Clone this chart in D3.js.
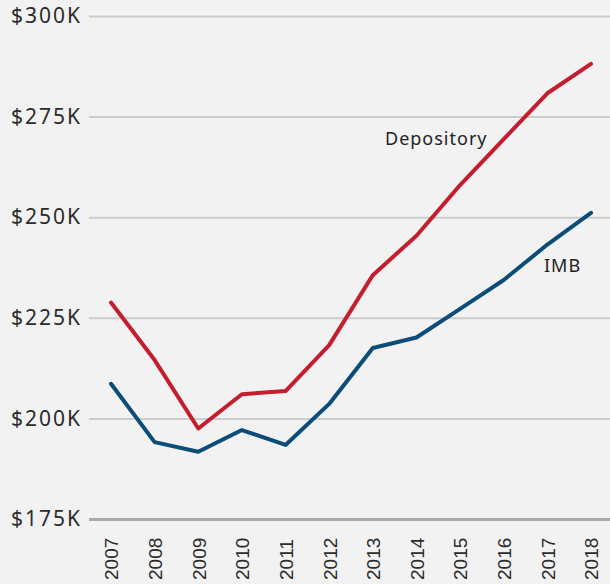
<!DOCTYPE html>
<html>
<head>
<meta charset="utf-8">
<script src="https://cdn.jsdelivr.net/npm/d3@7"></script>
<style>
  html, body { margin: 0; padding: 0; background: #f2f2f2; }
  svg { display: block; }
</style>
</head>
<body>
<svg id="chart"></svg>
<script>
const years = [2007, 2008, 2009, 2010, 2011, 2012, 2013, 2014, 2015, 2016, 2017, 2018];
const depository = [228.8, 214.5, 197.5, 206.0, 206.8, 218.2, 235.6, 245.4, 258.0, 269.4, 280.8, 288.1];
const imb = [208.6, 194.1, 191.7, 197.1, 193.4, 203.6, 217.5, 220.1, 227.2, 234.4, 243.2, 251.1];
const yTicks = [175, 200, 225, 250, 275, 300];

const W = 610, H = 584;

const svg = d3.select("#chart")
  .attr("width", W)
  .attr("height", H);

svg.append("rect")
  .attr("width", W)
  .attr("height", H)
  .attr("fill", "#f2f2f2");

const x = d3.scalePoint()
  .domain(years)
  .range([111, 591]);

const y = d3.scaleLinear()
  .domain([175, 300])
  .range([519, 16]);

// gridlines + y labels
const yAxis = d3.axisLeft(y)
  .tickValues(yTicks)
  .tickSize(-(W - 89))
  .tickPadding(7)
  .tickFormat(d => "$" + d + "K");

svg.append("g")
  .attr("transform", "translate(89,0)")
  .call(yAxis)
  .call(g => g.select(".domain").remove())
  .call(g => g.selectAll(".tick line")
    .attr("stroke", d => d === 175 ? "#aaaaaa" : "#cccccc")
    .attr("stroke-width", d => d === 175 ? 3 : 2))
  .call(g => g.selectAll(".tick text")
    .attr("fill", "#2b2b2b")
    .style("font-family", "'Noto Sans', sans-serif")
    .style("font-size", "21px")
    .style("letter-spacing", "2px"));

// x labels
const xAxis = d3.axisBottom(x)
  .tickSize(0)
  .tickFormat(d3.format("d"));

svg.append("g")
  .attr("transform", "translate(0,580)")
  .call(xAxis)
  .call(g => g.select(".domain").remove())
  .call(g => g.selectAll(".tick text")
    .attr("transform", "rotate(-90)")
    .attr("y", 0)
    .attr("x", 0)
    .attr("dy", "0.36em")
    .attr("text-anchor", "start")
    .attr("fill", "#2b2b2b")
    .style("font-family", "'Liberation Sans', Arial, sans-serif")
    .style("font-size", "19px"));

const line = d3.line()
  .x(d => x(d[0]))
  .y(d => y(d[1]));

svg.append("path")
  .datum(years.map((yr, i) => [yr, imb[i]]))
  .attr("fill", "none")
  .attr("stroke", "#0b4d78")
  .attr("stroke-width", 4)
  .attr("stroke-linejoin", "round")
  .attr("stroke-linecap", "round")
  .attr("d", line);

svg.append("path")
  .datum(years.map((yr, i) => [yr, depository[i]]))
  .attr("fill", "none")
  .attr("stroke", "#c41e2e")
  .attr("stroke-width", 4)
  .attr("stroke-linejoin", "round")
  .attr("stroke-linecap", "round")
  .attr("d", line);

// series labels
svg.append("text")
  .attr("x", 385)
  .attr("y", 145)
  .attr("fill", "#222")
  .style("font-family", "'Noto Sans', sans-serif")
  .style("font-size", "18px")
  .style("letter-spacing", "1px")
  .text("Depository");

svg.append("text")
  .attr("x", 544)
  .attr("y", 272)
  .attr("fill", "#222")
  .style("font-family", "'Noto Sans', sans-serif")
  .style("font-size", "18px")
  .style("letter-spacing", "1px")
  .text("IMB");
</script>
</body>
</html>
